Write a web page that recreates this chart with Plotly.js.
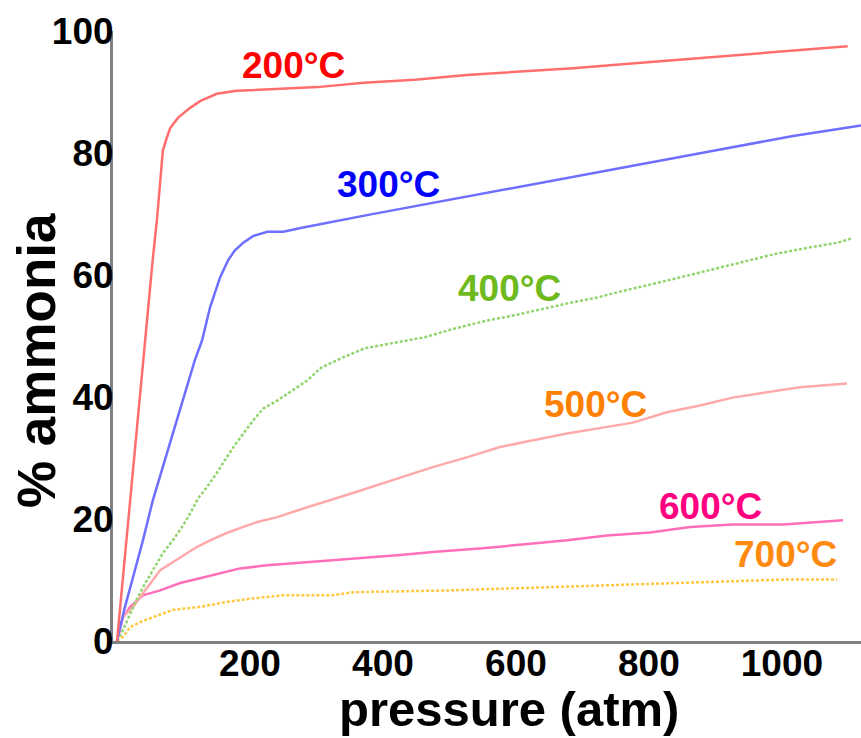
<!DOCTYPE html>
<html>
<head>
<meta charset="utf-8">
<script src="https://cdn.plot.ly/plotly-3.0.1.min.js"></script>
<style>
  html, body { margin: 0; padding: 0; background: #ffffff; }
  #chart { width: 861px; height: 738px; }
</style>
</head>
<body>
<div id="chart"></div>
<script>
// Pressure (atm) and % ammonia, one pair of arrays per temperature
const p200 = [0, 42, 54, 60, 65, 69, 75, 80, 92, 110, 125, 150, 180, 250, 302, 371, 448, 526, 606, 686, 765, 845, 923, 1003, 1072, 1099];
const y200 = [0, 49.3, 62.8, 68.9, 75.0, 80.4, 82.5, 84.1, 85.8, 87.4, 88.5, 89.7, 90.2, 90.5, 90.8, 91.5, 92.0, 92.8, 93.3, 93.9, 94.6, 95.3, 95.9, 96.6, 97.2, 97.5];

const p300 = [0, 12, 23, 39, 54, 69, 84, 99, 117, 128, 140, 155, 167, 177, 190, 205, 226, 250, 280, 380, 507, 635, 762, 889, 1017, 1119];
const y300 = [0, 5.6, 10.0, 16.5, 23.1, 28.5, 34.0, 39.4, 46.0, 49.3, 54.7, 59.6, 62.4, 64.0, 65.3, 66.4, 67.1, 67.1, 67.8, 69.9, 72.5, 75.0, 77.6, 80.2, 82.8, 84.5];

const p400 = [0, 9, 27, 39, 54, 69, 84, 98, 110, 122, 135, 150, 162, 177, 190, 205, 220, 241, 260, 286, 307, 340, 373, 415, 463, 507, 555, 598, 642, 684, 722, 761, 809, 857, 905, 949, 992, 1041, 1084, 1105];
const y400 = [0, 1.8, 6.2, 8.8, 11.6, 14.4, 16.5, 18.7, 20.9, 23.4, 25.2, 27.5, 29.6, 32.1, 34.0, 36.2, 38.1, 39.4, 40.8, 42.7, 44.8, 46.5, 48.0, 48.8, 49.8, 51.2, 52.5, 53.4, 54.5, 55.5, 56.3, 57.4, 58.6, 59.9, 61.2, 62.4, 63.5, 64.5, 65.3, 66.0];

const p500 = [0, 9, 24, 39, 54, 65, 90, 120, 140, 165, 190, 211, 241, 271, 350, 426, 475, 526, 576, 626, 677, 726, 776, 827, 877, 926, 977, 1027, 1098];
const y500 = [0, 3.9, 5.6, 7.9, 10.0, 11.6, 13.3, 15.4, 16.5, 17.7, 18.7, 19.5, 20.3, 21.4, 24.1, 26.7, 28.5, 30.1, 31.8, 32.9, 34.0, 34.9, 35.8, 37.5, 38.6, 39.9, 40.8, 41.6, 42.2];

const p600 = [0, 9, 20, 39, 65, 95, 125, 155, 185, 226, 275, 325, 376, 426, 475, 550, 626, 677, 737, 802, 862, 926, 1002, 1068, 1092];
const y600 = [0, 3.9, 5.6, 7.5, 8.3, 9.5, 10.3, 11.1, 11.9, 12.4, 12.8, 13.3, 13.6, 14.1, 14.6, 15.2, 16.0, 16.5, 17.3, 17.8, 18.7, 19.1, 19.1, 19.6, 19.8];

const p700 = [0, 9, 20, 35, 54, 84, 125, 165, 205, 250, 325, 355, 501, 647, 842, 1012, 1083];
const y700 = [0, 0.7, 2.3, 3.1, 3.9, 5.1, 5.6, 6.4, 7.0, 7.5, 7.5, 8.0, 8.3, 8.8, 9.5, 10.1, 10.1];

// Curve labels and where they sit (pressure, % ammonia)
const labelTexts = ['200°C', '300°C', '400°C', '500°C', '600°C', '700°C'];
const labelP = [266, 408, 591, 720, 892, 1005];
const labelY = [94.3, 74.8, 57.8, 38.8, 22.1, 14.2];
const labelColors = ['#ff0000', '#0000ff', '#6fba1e', '#ff8000', '#ff0080', '#ff8a10'];

const xTickVals = [200, 400, 600, 800, 1000];
const yTickVals = [0, 20, 40, 60, 80, 100];
const xTitle = 'pressure (atm)';
const yTitle = '% ammonia';

const FONT = 'Liberation Sans, Arial, Helvetica, sans-serif';

function series(x, y, color, dash) {
  return {
    x: x, y: y, type: 'scatter', mode: 'lines',
    line: { color: color, width: 2.5, dash: dash || 'solid' },
    hoverinfo: 'x+y', showlegend: false
  };
}

const data = [
  series(p700, y700, '#ffc840', '3px,2px'),
  series(p600, y600, '#ff6eb8'),
  series(p500, y500, '#ffaaaa'),
  series(p400, y400, '#92d46e', '3px,2px'),
  series(p300, y300, '#6e6eff'),
  series(p200, y200, '#ff6e6e')
];

const annotations = labelTexts.map((t, i) => ({
  x: labelP[i], y: labelY[i], xref: 'x', yref: 'y',
  text: '<b>' + t + '</b>', showarrow: false,
  font: { family: FONT, size: 37, color: labelColors[i] },
  xanchor: 'center', yanchor: 'middle'
}));

// axis titles, placed where the reference has them (pixel coordinates, converted below)
annotations.push({
  x: 509, y: 709, xref: 'paper', yref: 'paper', text: '<b>' + xTitle + '</b>',
  showarrow: false, font: { family: FONT, size: 49, color: '#000000' },
  xanchor: 'center', yanchor: 'middle'
});
annotations.push({
  x: 37, y: 361, xref: 'paper', yref: 'paper', text: '<b>' + yTitle + '</b>',
  showarrow: false, textangle: -90, font: { family: FONT, size: 53, color: '#000000' },
  xanchor: 'center', yanchor: 'middle'
});

const layout = {
  width: 861, height: 738,
  margin: { l: 113, r: 0, t: 31, b: 97, pad: 0 },
  paper_bgcolor: '#ffffff', plot_bgcolor: '#ffffff',
  showlegend: false,
  font: { family: FONT, color: '#000000' },
  xaxis: {
    range: [-6, 1119], showgrid: false, zeroline: false,
    showline: true, linecolor: '#808080', linewidth: 3,
    tickvals: xTickVals, ticks: '', ticklabelstandoff: -12,
    tickfont: { family: FONT, size: 37, color: '#000000', weight: 'bold' },
    automargin: false, fixedrange: true
  },
  yaxis: {
    range: [0, 100], showgrid: false, zeroline: false,
    showline: true, linecolor: '#808080', linewidth: 3,
    tickvals: yTickVals, ticks: '', ticklabelstandoff: -11,
    tickfont: { family: FONT, size: 37, color: '#000000', weight: 'bold' },
    automargin: false, fixedrange: true
  },
  annotations: annotations
};

// convert the pixel placement of the two axis titles into paper fractions
const plotW = layout.width - layout.margin.l - layout.margin.r;
const plotH = layout.height - layout.margin.t - layout.margin.b;
layout.annotations.forEach(a => {
  if (a.xref === 'paper') {
    a.x = (a.x - layout.margin.l) / plotW;
    a.y = (layout.height - layout.margin.b - a.y) / plotH;
  }
});

Plotly.newPlot('chart', data, layout, { displayModeBar: false, staticPlot: true });
</script>
</body>
</html>
